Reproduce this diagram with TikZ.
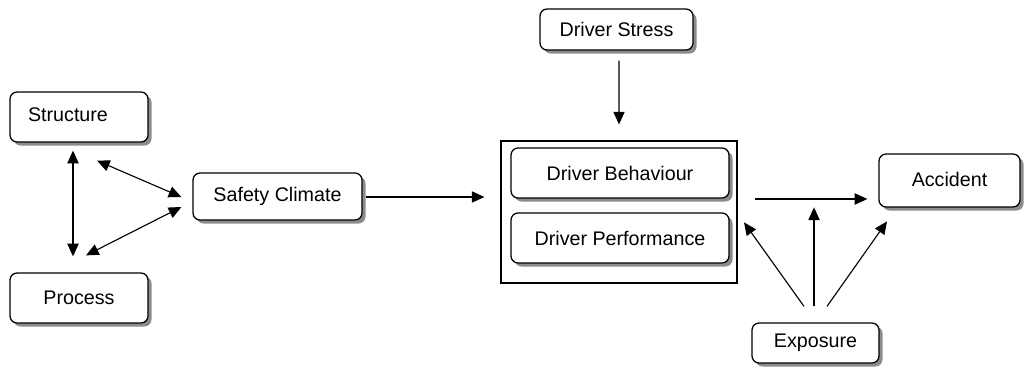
\documentclass[tikz,border=0pt]{standalone}
\usepackage{fontspec}
\setmainfont{Liberation Sans}
\usetikzlibrary{arrows.meta, shadows, calc}
\newcommand\pxl{0.025cm}

\begin{document}
\begin{tikzpicture}[x=0.025cm, y=-0.025cm,
  block/.style={draw, line width=0.9pt, rounded corners=5pt, fill=white, inner sep=0pt,
    font=\fontsize{14}{16}\selectfont,
    drop shadow={shadow xshift=2.5pt, shadow yshift=-2.5pt, fill=gray!90, opacity=1}},
  arr/.style={-{Triangle[length=9pt,width=8pt]}, line width=0.8pt},
  dblarr/.style={{Triangle[length=9pt,width=8pt]}-{Triangle[length=9pt,width=8pt]}, line width=0.8pt}]

\useasboundingbox (0,0) rectangle (1024,368);

%Left Boxes
\node[block, minimum width=138*\pxl, minimum height=50*\pxl] (structure) at (79,117) {\raisebox{0.1cm}{Structure}\hspace*{0.55cm}};
\node[block, minimum width=138*\pxl, minimum height=50*\pxl] (process) at (79,298) {Process};
\node[block, minimum width=169*\pxl, minimum height=47*\pxl] (climate) at (277.5,196.5) {Safety Climate};

%Driver Group
\node[block, minimum width=153*\pxl, minimum height=41*\pxl] (stress) at (616.5,29.5) {Driver Stress};
\node[draw, line width=0.8pt, minimum width=236*\pxl, minimum height=142*\pxl] (group) at (619,212) {};
\node[block, minimum width=218*\pxl, minimum height=50*\pxl] (behaviour) at (620,173) {Driver Behaviour};
\node[block, minimum width=218*\pxl, minimum height=50*\pxl] (performance) at (620,238) {Driver Performance};

%Right Boxes
\node[block, minimum width=141*\pxl, minimum height=53*\pxl] (accident) at (949.5,180.5) {\raisebox{0.07cm}{Accident}};
\node[block, minimum width=127*\pxl, minimum height=40*\pxl] (exposure) at (815.5,343) {Exposure};

%Triangle
\draw[dblarr] ($(structure.south)+(-6,8)$) to ($(process.north)+(-6,-16)$);
\draw[dblarr] ($(structure.south)+(18,18)$) to ($(climate.west)+(-11,0.5)$);
\draw[dblarr] ($(process.north)+(7,-17)$) to ($(climate.west)+(-11,10.5)$);

%Main Chain
\draw[arr] ($(climate.east)+(3,0.5)$) to ($(climate.east -| group.west)+(-16,0.5)$);
\draw[arr] ($(stress.south)+(2.5,10)$) to ($(group.north)+(0,-16)$);
\draw[arr] ($(group.east)+(17,-13)$) to ($(group.east -| accident.west)+(-11,-13)$);

%Exposure
\draw[arr] ($(exposure.north)+(-11.5,-16)$) to ($(exposure.north)+(-71.5,-100)$);
\draw[arr] ($(exposure.north)+(-1.5,-16)$) to ($(exposure.north)+(-1.5,-115)$);
\draw[arr] ($(exposure.north)+(11.5,-16)$) to ($(exposure.north)+(71.5,-101)$);
\end{tikzpicture}
\end{document}
